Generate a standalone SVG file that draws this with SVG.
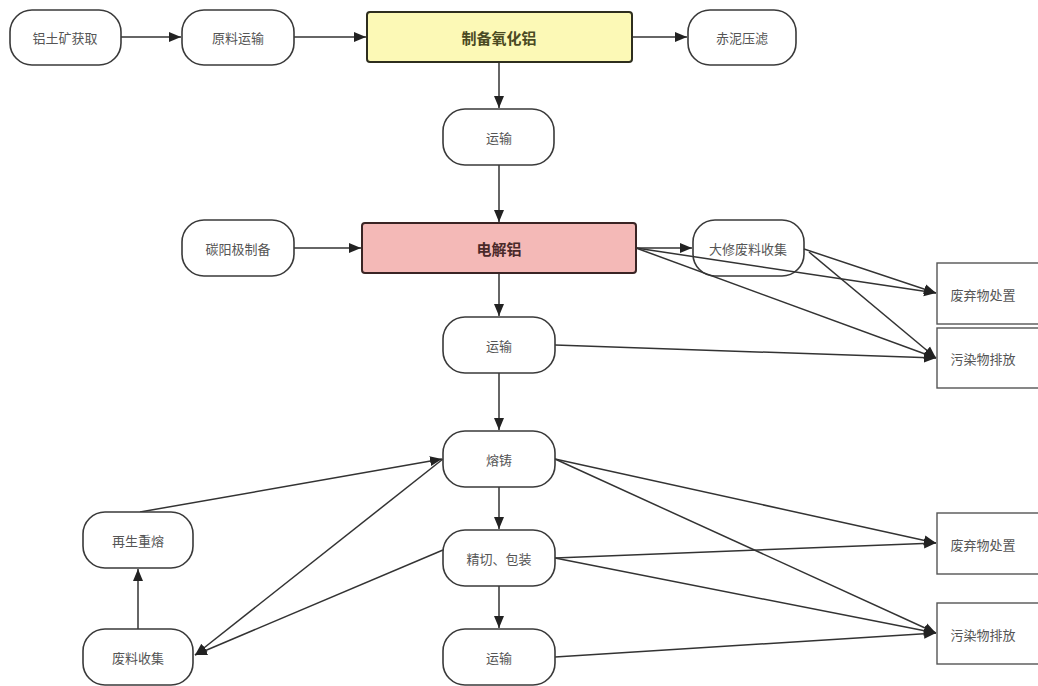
<svg xmlns="http://www.w3.org/2000/svg" width="1038" height="686" viewBox="0 0 1038 686">
<style>
.pill{fill:#fff;stroke:#3a3a3a;stroke-width:1.6}
.box{fill:#fff;stroke:#555;stroke-width:1.4}
.t{font-family:"Noto Sans CJK SC","Liberation Sans",sans-serif;font-size:13px;fill:#555;text-anchor:middle;dominant-baseline:central}
.tb{font-family:"Noto Sans CJK SC","Liberation Sans",sans-serif;font-size:15px;font-weight:bold;text-anchor:middle;dominant-baseline:central}
.e{fill:none;stroke:#333;stroke-width:1.5;marker-end:url(#ah)}
</style>
<defs>
<marker id="ah" viewBox="0 0 12 12" refX="12" refY="6" markerWidth="12" markerHeight="12" markerUnits="userSpaceOnUse" orient="auto">
<path d="M0,1 L12,6 L0,11 Z" fill="#222"/>
</marker>
</defs>
<rect width="1038" height="686" fill="#fff"/>
<g id="n-overhaul"><rect class="pill" x="693" y="220" width="111" height="56" rx="22"/><text class="t" x="748" y="248">大修废料收集</text></g>
<g id="connectors">
<line class="e" x1="121" y1="37" x2="181" y2="37"/>
<line class="e" x1="294" y1="37" x2="366" y2="37"/>
<line class="e" x1="632" y1="37" x2="687" y2="37"/>
<line class="e" x1="499" y1="62" x2="499" y2="108"/>
<line class="e" x1="499" y1="165" x2="499" y2="222"/>
<line class="e" x1="294" y1="248" x2="361" y2="248"/>
<line class="e" x1="636" y1="248" x2="692" y2="248"/>
<line class="e" x1="636" y1="248" x2="936" y2="293"/>
<line class="e" x1="636" y1="248" x2="936" y2="358"/>
<line class="e" x1="804" y1="249" x2="936" y2="293"/>
<line class="e" x1="809" y1="252" x2="936" y2="358"/>
<line class="e" x1="499" y1="273" x2="499" y2="316"/>
<line class="e" x1="555" y1="345" x2="936" y2="358"/>
<line class="e" x1="499" y1="373" x2="499" y2="430"/>
<line class="e" x1="499" y1="487" x2="499" y2="529"/>
<line class="e" x1="499" y1="586" x2="499" y2="628"/>
<line class="e" x1="138" y1="629" x2="138" y2="569"/>
<line class="e" x1="140" y1="512" x2="442" y2="459"/>
<line class="e" x1="443" y1="459" x2="195" y2="655"/>
<line class="e" x1="443" y1="550" x2="195" y2="655"/>
<line class="e" x1="555" y1="459" x2="936" y2="543"/>
<line class="e" x1="555" y1="459" x2="936" y2="633"/>
<line class="e" x1="555" y1="558" x2="936" y2="543"/>
<line class="e" x1="555" y1="558" x2="936" y2="633"/>
<line class="e" x1="555" y1="657" x2="936" y2="633"/>
</g>
<g id="n-bauxite"><rect class="pill" x="10" y="10" width="111" height="55" rx="22"/><text class="t" x="65" y="37">铝土矿获取</text></g>
<g id="n-transport-raw"><rect class="pill" x="182" y="10" width="112" height="55" rx="22"/><text class="t" x="238" y="37">原料运输</text></g>
<g id="n-alumina"><rect x="367" y="12" width="265" height="50" rx="3" fill="#fcf9b6" stroke="#2e2e1e" stroke-width="2"/><text class="tb" x="499" y="37" fill="#4a4a22">制备氧化铝</text></g>
<g id="n-redmud"><rect class="pill" x="688" y="10" width="108" height="55" rx="22"/><text class="t" x="742" y="37">赤泥压滤</text></g>
<g id="n-transport1"><rect class="pill" x="443" y="109" width="111" height="56" rx="22"/><text class="t" x="499" y="137">运输</text></g>
<g id="n-anode"><rect class="pill" x="182" y="220" width="112" height="56" rx="22"/><text class="t" x="238" y="248">碳阳极制备</text></g>
<g id="n-electrolysis"><rect x="362" y="223" width="274" height="50" rx="3" fill="#f4b9b7" stroke="#3a2424" stroke-width="2"/><text class="tb" x="499" y="248" fill="#4a2a2a">电解铝</text></g>
<g id="n-waste1"><rect class="box" x="937" y="263" width="110" height="61"/><text class="t" x="983" y="294">废弃物处置</text></g>
<g id="n-pollut1"><rect class="box" x="937" y="328" width="110" height="60"/><text class="t" x="983" y="358">污染物排放</text></g>
<g id="n-transport2"><rect class="pill" x="443" y="317" width="112" height="56" rx="22"/><text class="t" x="499" y="345">运输</text></g>
<g id="n-casting"><rect class="pill" x="443" y="431" width="112" height="56" rx="22"/><text class="t" x="499" y="459">熔铸</text></g>
<g id="n-cutting"><rect class="pill" x="443" y="530" width="112" height="56" rx="22"/><text class="t" x="499" y="558">精切、包装</text></g>
<g id="n-transport3"><rect class="pill" x="443" y="629" width="112" height="56" rx="22"/><text class="t" x="499" y="657">运输</text></g>
<g id="n-remelt"><rect class="pill" x="83" y="512" width="110" height="56" rx="22"/><text class="t" x="138" y="540">再生重熔</text></g>
<g id="n-scrap"><rect class="pill" x="83" y="629" width="110" height="56" rx="22"/><text class="t" x="138" y="657">废料收集</text></g>
<g id="n-waste2"><rect class="box" x="937" y="513" width="110" height="61"/><text class="t" x="983" y="544">废弃物处置</text></g>
<g id="n-pollut2"><rect class="box" x="937" y="603" width="110" height="61"/><text class="t" x="983" y="634">污染物排放</text></g>
</svg>
